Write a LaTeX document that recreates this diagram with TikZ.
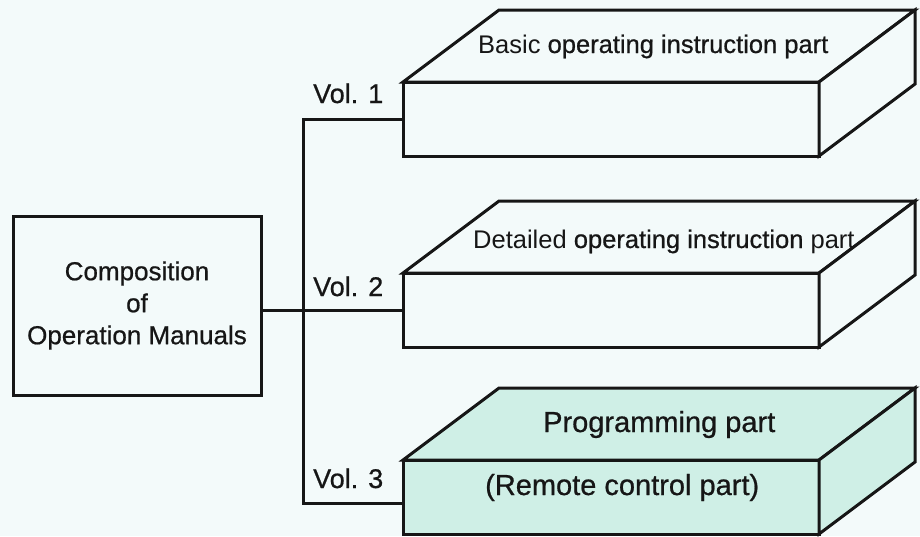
\documentclass[tikz,border=0pt]{standalone}
\usepackage{fontspec}
\setmainfont{Liberation Sans}
\newfontfamily\heavy[FakeBold=0.7]{Liberation Sans}
\definecolor{bgc}{HTML}{F3FAFA}
\definecolor{aqua}{HTML}{CFEFE6}
\definecolor{ink}{HTML}{161616}
\newcommand\drawcube[2]{%
  \draw[ln,fill=#2] (#1.north west) -- ++(96,-72) -- ++(416,0) -- (#1.north east) -- cycle;
  \draw[ln,fill=#2] (#1.north east) -- ++(96,-72) -- ++(0,74) -- (#1.south east) -- cycle;}
\begin{document}
\begin{tikzpicture}[x=1pt,y=-1pt,
  ln/.style={draw=ink,line width=3pt,line join=miter},
  face/.style={rectangle,draw=ink,line width=3pt,minimum width=416pt,minimum height=74pt,inner sep=0pt,outer sep=0pt},
  vol/.style={anchor=base west,inner sep=0pt,font=\heavy\fontsize{27}{32}\selectfont,text=ink},
  toptxt/.style={anchor=base west,inner sep=0pt,font=\fontsize{25.5}{30}\selectfont,text=ink},
  bigtxt/.style={anchor=base west,inner sep=0pt,font=\heavy\fontsize{29}{34}\selectfont,text=ink},
  compbox/.style={rectangle,draw=ink,line width=3pt,minimum width=248pt,minimum height=179pt,inner sep=0pt,outer sep=0pt,align=center,font=\heavy\fontsize{26}{32}\selectfont,text=ink}]
\fill[bgc] (0,0) rectangle (920,536);
\useasboundingbox (0,0) rectangle (920,536);

% composition box
\node[compbox,fill=bgc] (comp) at (137,305.5) {Composition\\of\\Operation Manuals};

% volume boxes (front faces)
\node[face,fill=bgc] (b1) at (611,119) {};
\node[face,fill=bgc] (b2) at (611,310) {};
\node[face,fill=aqua] (b3) at (611,497) {};
\drawcube{b1}{bgc}
\drawcube{b2}{bgc}
\drawcube{b3}{aqua}

% connectors
\coordinate (t) at (303,0);
\coordinate (j3) at ([yshift=-6pt]b3.west);
\draw[ln] (b1.west) -- (b1.west -| t) -- (j3 -| t) -- (j3);
\draw[ln] (comp.east |- b2.west) -- (b2.west);

% labels
\node[vol] (v1) at (313,103) {Vol. 1};
\node[vol] (v2) at (313,296) {Vol. 2};
\node[vol] (v3) at (313,488) {Vol. 3};

\node[toptxt] (t1) at (478,53) {Basic {\heavy operating instruction part}};
\node[toptxt] (t2) at (473,248) {Detailed {\heavy operating instruction} part};
\node[bigtxt] (t3) at (543,432) {Programming part};
\node[bigtxt] (t4) at (485,495) {(Remote control part)};
\end{tikzpicture}
\end{document}
